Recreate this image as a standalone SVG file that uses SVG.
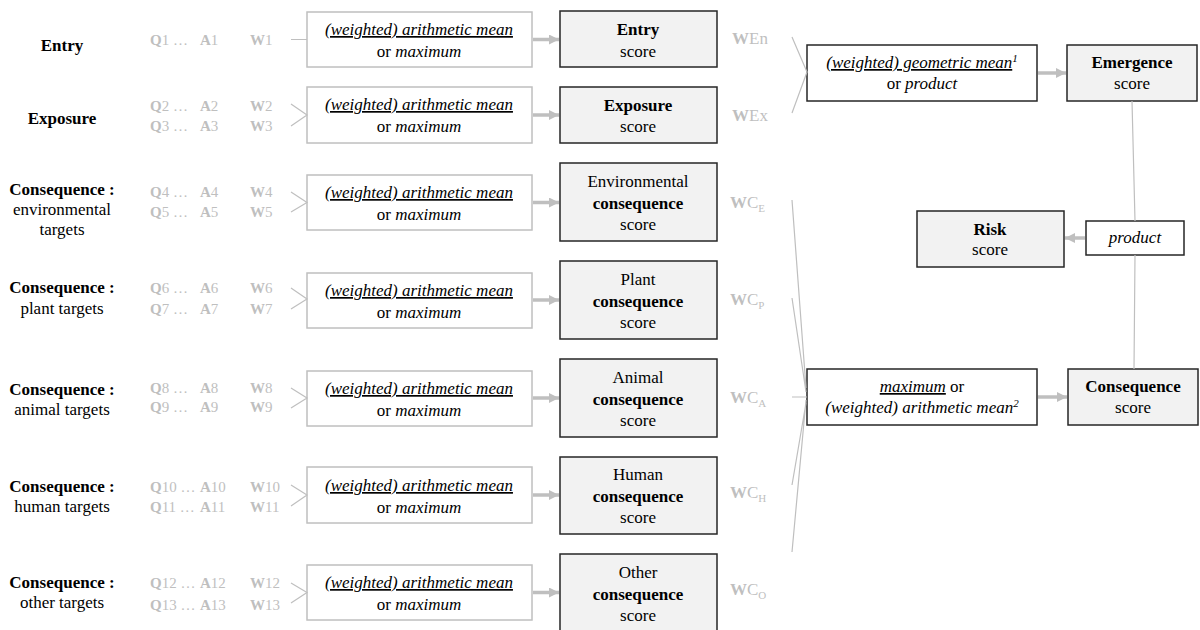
<svg xmlns="http://www.w3.org/2000/svg" width="1200" height="630" viewBox="0 0 1200 630" font-family="Liberation Serif, serif">
<style>
text{font-family:Liberation Serif,serif;fill:#000;font-size:17px;text-anchor:middle}
.b{font-weight:bold}.i{font-style:italic}.u{text-decoration:underline}
.g{fill:#bfbfbf;font-size:15px;text-anchor:start}
.w{fill:#bfbfbf;text-anchor:start}
.s{font-size:11px}
.m{fill:#fff;stroke:#bfbfbf;stroke-width:1.5}
.d{fill:#fff;stroke:#262626;stroke-width:1.5}
.c{fill:#f2f2f2;stroke:#262626;stroke-width:1.5}
.t{stroke:#bfbfbf;stroke-width:1.2;fill:none}
.a{stroke:#bfbfbf;stroke-width:3.5;fill:none;marker-end:url(#ah)}
</style>
<defs><marker id="ah" markerUnits="userSpaceOnUse" markerWidth="12" markerHeight="12" refX="10" refY="5" orient="auto"><path d="M0,0 L10,5 L0,10 Z" fill="#bfbfbf"/></marker></defs>
<g id="labels">
<text class="b" x="62" y="51">Entry</text>
<text class="b" x="62" y="124">Exposure</text>
<text x="62" y="195"><tspan class="b">Consequence :</tspan><tspan x="62" dy="20">environmental</tspan><tspan x="62" dy="20">targets</tspan></text>
<text x="62" y="293"><tspan class="b">Consequence :</tspan><tspan x="62" dy="21">plant targets</tspan></text>
<text x="62" y="395"><tspan class="b">Consequence :</tspan><tspan x="62" dy="20">animal targets</tspan></text>
<text x="62" y="492"><tspan class="b">Consequence :</tspan><tspan x="62" dy="20">human targets</tspan></text>
<text x="62" y="588"><tspan class="b">Consequence :</tspan><tspan x="62" dy="20">other targets</tspan></text>
</g>
<g id="items">
<text class="g" y="45"><tspan x="150" class="b">Q</tspan>1 …<tspan x="200" class="b">A</tspan>1<tspan x="250" class="b">W</tspan>1</text>
<text class="g" y="111"><tspan x="150" class="b">Q</tspan>2 …<tspan x="200" class="b">A</tspan>2<tspan x="250" class="b">W</tspan>2</text>
<text class="g" y="131"><tspan x="150" class="b">Q</tspan>3 …<tspan x="200" class="b">A</tspan>3<tspan x="250" class="b">W</tspan>3</text>
<text class="g" y="197"><tspan x="150" class="b">Q</tspan>4 …<tspan x="200" class="b">A</tspan>4<tspan x="250" class="b">W</tspan>4</text>
<text class="g" y="217"><tspan x="150" class="b">Q</tspan>5 …<tspan x="200" class="b">A</tspan>5<tspan x="250" class="b">W</tspan>5</text>
<text class="g" y="293"><tspan x="150" class="b">Q</tspan>6 …<tspan x="200" class="b">A</tspan>6<tspan x="250" class="b">W</tspan>6</text>
<text class="g" y="314"><tspan x="150" class="b">Q</tspan>7 …<tspan x="200" class="b">A</tspan>7<tspan x="250" class="b">W</tspan>7</text>
<text class="g" y="393"><tspan x="150" class="b">Q</tspan>8 …<tspan x="200" class="b">A</tspan>8<tspan x="250" class="b">W</tspan>8</text>
<text class="g" y="412"><tspan x="150" class="b">Q</tspan>9 …<tspan x="200" class="b">A</tspan>9<tspan x="250" class="b">W</tspan>9</text>
<text class="g" y="492"><tspan x="150" class="b">Q</tspan>10 …<tspan x="200" class="b">A</tspan>10<tspan x="250" class="b">W</tspan>10</text>
<text class="g" y="512"><tspan x="150" class="b">Q</tspan>11 …<tspan x="200" class="b">A</tspan>11<tspan x="250" class="b">W</tspan>11</text>
<text class="g" y="588"><tspan x="150" class="b">Q</tspan>12 …<tspan x="200" class="b">A</tspan>12<tspan x="250" class="b">W</tspan>12</text>
<text class="g" y="610"><tspan x="150" class="b">Q</tspan>13 …<tspan x="200" class="b">A</tspan>13<tspan x="250" class="b">W</tspan>13</text>
</g>
<g id="m1"><rect class="m" x="307" y="12" width="225" height="55"/><text x="419" y="35"><tspan class="i u">(weighted) arithmetic mean</tspan><tspan x="419" dy="22">or </tspan><tspan class="i">maximum</tspan></text></g>
<g id="m2"><rect class="m" x="307" y="87" width="225" height="56"/><text x="419" y="110"><tspan class="i u">(weighted) arithmetic mean</tspan><tspan x="419" dy="22">or </tspan><tspan class="i">maximum</tspan></text></g>
<g id="m3"><rect class="m" x="307" y="175" width="225" height="55"/><text x="419" y="198"><tspan class="i u">(weighted) arithmetic mean</tspan><tspan x="419" dy="22">or </tspan><tspan class="i">maximum</tspan></text></g>
<g id="m4"><rect class="m" x="307" y="273" width="225" height="55"/><text x="419" y="296"><tspan class="i u">(weighted) arithmetic mean</tspan><tspan x="419" dy="22">or </tspan><tspan class="i">maximum</tspan></text></g>
<g id="m5"><rect class="m" x="307" y="371" width="225" height="55"/><text x="419" y="394"><tspan class="i u">(weighted) arithmetic mean</tspan><tspan x="419" dy="22">or </tspan><tspan class="i">maximum</tspan></text></g>
<g id="m6"><rect class="m" x="307" y="467" width="225" height="56"/><text x="419" y="491"><tspan class="i u">(weighted) arithmetic mean</tspan><tspan x="419" dy="22">or </tspan><tspan class="i">maximum</tspan></text></g>
<g id="m7"><rect class="m" x="307" y="565" width="225" height="55"/><text x="419" y="588"><tspan class="i u">(weighted) arithmetic mean</tspan><tspan x="419" dy="22">or </tspan><tspan class="i">maximum</tspan></text></g>
<g id="s1"><rect class="c" x="560" y="11" width="157" height="56"/><text x="638" y="35"><tspan class="b">Entry</tspan><tspan x="638" dy="22">score</tspan></text></g>
<g id="s2"><rect class="c" x="560" y="87" width="157" height="56"/><text x="638" y="111"><tspan class="b">Exposure</tspan><tspan x="638" dy="21">score</tspan></text></g>
<g id="s3"><rect class="c" x="560" y="163" width="157" height="78"/><text x="638" y="187">Environmental<tspan class="b" x="638" dy="21.5">consequence</tspan><tspan x="638" dy="21.5">score</tspan></text></g>
<g id="s4"><rect class="c" x="560" y="261" width="157" height="78"/><text x="638" y="285">Plant<tspan class="b" x="638" dy="21.5">consequence</tspan><tspan x="638" dy="21.5">score</tspan></text></g>
<g id="s5"><rect class="c" x="560" y="359" width="157" height="78"/><text x="638" y="383">Animal<tspan class="b" x="638" dy="21.5">consequence</tspan><tspan x="638" dy="21.5">score</tspan></text></g>
<g id="s6"><rect class="c" x="560" y="457" width="157" height="77"/><text x="638" y="480">Human<tspan class="b" x="638" dy="21.5">consequence</tspan><tspan x="638" dy="21.5">score</tspan></text></g>
<g id="s7"><rect class="c" x="560" y="554" width="157" height="78"/><text x="638" y="578">Other<tspan class="b" x="638" dy="21.5">consequence</tspan><tspan x="638" dy="21.5">score</tspan></text></g>
<g id="weights">
<text class="w" x="732" y="44"><tspan class="b">W</tspan>En</text>
<text class="w" x="732" y="121"><tspan class="b">W</tspan>Ex</text>
<text class="w" x="730" y="208"><tspan class="b">W</tspan>C<tspan class="s" dy="4">E</tspan></text>
<text class="w" x="730" y="305"><tspan class="b">W</tspan>C<tspan class="s" dy="4">P</tspan></text>
<text class="w" x="730" y="403"><tspan class="b">W</tspan>C<tspan class="s" dy="4">A</tspan></text>
<text class="w" x="730" y="498"><tspan class="b">W</tspan>C<tspan class="s" dy="4">H</tspan></text>
<text class="w" x="730" y="595"><tspan class="b">W</tspan>C<tspan class="s" dy="4">O</tspan></text>
</g>
<g id="geo"><rect class="d" x="807" y="45" width="230" height="56"/><text x="922" y="68"><tspan class="i u">(weighted) geometric mean</tspan><tspan class="i s" dy="-6">1</tspan><tspan x="922" dy="27">or </tspan><tspan class="i">product</tspan></text></g>
<g id="emergence"><rect class="c" x="1067" y="45" width="130" height="56"/><text x="1132" y="68"><tspan class="b">Emergence</tspan><tspan x="1132" dy="21">score</tspan></text></g>
<g id="risk"><rect class="c" x="917" y="211" width="147" height="56"/><text x="990" y="235"><tspan class="b">Risk</tspan><tspan x="990" dy="20">score</tspan></text></g>
<g id="product"><rect class="d" x="1086" y="221" width="98" height="34"/><text class="i" x="1135" y="243">product</text></g>
<g id="maxbox"><rect class="d" x="807" y="369" width="230" height="56"/><text x="922" y="392"><tspan class="i u">maximum</tspan><tspan> or</tspan><tspan class="i" x="922" dy="21">(weighted) arithmetic mean</tspan><tspan class="i s" dy="-6">2</tspan></text></g>
<g id="consequence"><rect class="c" x="1068" y="369" width="130" height="56"/><text x="1133" y="392"><tspan class="b">Consequence</tspan><tspan x="1133" dy="21">score</tspan></text></g>
<g id="connectors">
<path class="t" d="M291,39.5H307M291,104L307,115L291,126M291,192L307,202.5L291,212M291,288L307,299L291,309M291,388L307,398L291,408M291,485L307,495L291,506M291,583L307,592.5L291,603"/>
<path class="a" d="M533,39.5H559"/><path class="a" d="M533,115H559"/><path class="a" d="M533,202.5H559"/><path class="a" d="M533,300H559"/><path class="a" d="M533,398H559"/><path class="a" d="M533,495H559"/><path class="a" d="M533,592.5H559"/>
<path class="t" d="M792,37L807,72L792,113M792,200L806,388M792,298L806,392M792,397H807M792,485L806,403M792,552L806,400M1132,101L1135,221M1135,255L1134,369"/>
<path class="a" d="M1038,73H1066"/><path class="a" d="M1038,397H1067"/><path class="a" d="M1085,238H1065"/>
</g>
</svg>
